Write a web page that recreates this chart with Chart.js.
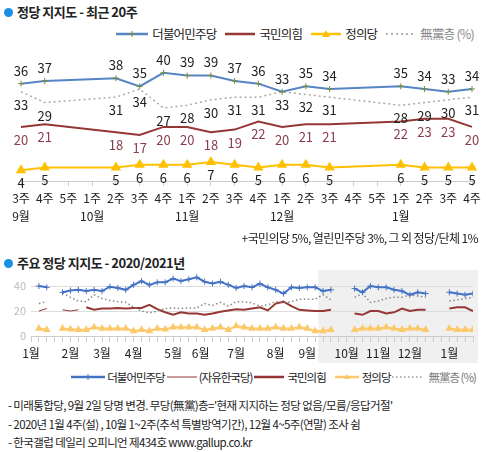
<!DOCTYPE html>
<html><head><meta charset="utf-8">
<script src="https://cdn.jsdelivr.net/npm/chart.js@4"></script>
<style>
body{margin:0;width:486px;height:452px;background:#fff;font-family:"Noto Sans CJK KR","Noto Sans",sans-serif;position:relative;overflow:hidden;color:#222}
.a{position:absolute;white-space:nowrap}
.t{font-size:13px;font-weight:bold;letter-spacing:-0.5px}
.dot{display:inline-block;width:9px;height:9px;border-radius:50%;background:#1a8fe3;margin-right:4px;vertical-align:0px}
.lg{font-size:12.5px;display:flex;align-items:center;letter-spacing:-0.8px}
.lg2{font-size:11.5px;display:flex;align-items:center;letter-spacing:-1px}
.n{font-size:11.5px;letter-spacing:-0.6px}
</style></head><body>
<div class="a t" style="left:4px;top:2px"><span class="dot"></span>정당 지지도 - 최근 20주</div>
<div class="a lg" style="right:12px;top:24px">
<svg width="34" height="10"><line x1="1" y1="5" x2="33" y2="5" stroke="#5585c5" stroke-width="2.5"/><path d="M17 2V8M14 5H20" stroke="#7a8a3a" stroke-width="1"/></svg><span style="margin:0 8px 0 3px">더불어민주당</span>
<svg width="32" height="10"><line x1="1" y1="5" x2="31" y2="5" stroke="#953735" stroke-width="2.5"/></svg><span style="margin:0 8px 0 3px">국민의힘</span>
<svg width="32" height="10"><line x1="1" y1="5" x2="31" y2="5" stroke="#ffc000" stroke-width="2.5"/><path d="M16 1L20 8H12Z" fill="#ffc000"/></svg><span style="margin:0 8px 0 3px">정의당</span>
<svg width="32" height="10"><line x1="1" y1="5" x2="31" y2="5" stroke="#999" stroke-width="1.5" stroke-dasharray="2,3"/></svg><span style="margin-left:3px;color:#888">無黨층 (%)</span>
</div>
<canvas id="c1" class="a" style="left:0;top:50px"></canvas>
<div class="a" style="right:8px;top:229px;font-size:12px;letter-spacing:-0.6px">+국민의당 5%, 열린민주당 3%, 그 외 정당/단체 1%</div>
<div class="a t" style="left:4px;top:253px"><span class="dot"></span>주요 정당 지지도 - 2020/2021년</div>
<canvas id="c2" class="a" style="left:0;top:262px"></canvas>
<div class="a lg2" style="right:10px;top:369px">
<svg width="36" height="10"><line x1="1" y1="5" x2="35" y2="5" stroke="#4472c4" stroke-width="2.5"/><path d="M18 2V8M15 5H21" stroke="#4472c4" stroke-width="1"/></svg><span style="margin:0 1px 0 1px">더불어민주당</span>
<svg width="32" height="10"><line x1="1" y1="5" x2="31" y2="5" stroke="#953735" stroke-width="1"/></svg><span style="margin:0 1px 0 1px">(자유한국당)</span>
<svg width="32" height="10"><line x1="1" y1="5" x2="31" y2="5" stroke="#953735" stroke-width="2.5"/></svg><span style="margin:0 8px 0 2px">국민의힘</span>
<svg width="26" height="10"><line x1="1" y1="5" x2="25" y2="5" stroke="#fcc96a" stroke-width="2.5"/><path d="M13 2L16 7H10Z" fill="#fcc96a"/></svg><span style="margin:0 1px 0 2px">정의당</span>
<svg width="34" height="10"><line x1="1" y1="5" x2="33" y2="5" stroke="#999" stroke-width="1.5" stroke-dasharray="1.5,2.5"/></svg><span style="margin-left:3px;color:#777">無黨층 (%)</span>
</div>
<div class="a n" style="left:8px;top:397px">- 미래통합당, 9월 2일 당명 변경. 무당(無黨)층='현재 지지하는 정당 없음/모름/응답거절'</div>
<div class="a n" style="left:8px;top:416px">- 2020년 1월 4주(설) , 10월 1~2주(추석 특별방역기간), 12월 4~5주(연말) 조사 쉼</div>
<div class="a n" style="left:8px;top:434px">- 한국갤럽 데일리 오피니언 제434호 www.gallup.co.kr</div>
<script>
// ---- top chart data ----
const weeks = ['3주','4주','5주','1주','2주','3주','4주','1주','2주','3주','4주','1주','2주','3주','4주','5주','1주','2주','3주','4주'];
const monthsTop = ['9월','','','10월','','','','11월','','','','12월','','','','','1월','','',''];
const demTop = [36,37,null,null,38,35,40,39,39,37,36,33,35,34,null,null,35,34,33,34];
const pppTop = [20,21,null,null,18,17,20,20,18,19,22,20,21,21,null,null,22,23,23,20];
const jusTop = [4,5,null,null,5,6,6,6,7,6,5,6,6,5,null,null,6,5,5,5];
const indTop = [33,29,null,null,31,34,27,28,30,31,31,33,32,31,null,null,28,29,30,31];

// ---- bottom chart data (weekly slots 2020 Jan wk1 .. 2021 Jan wk4) ----
const demAll = [null,40,39,null,35,36.5,37,36,37,36,39.5,38.5,37,41,44,41,43,43,46,44,45.5,47,43.5,42,43.5,41,38.5,40,39,42,39,37,34,39,38.5,39,39,36,37,null,null,38,35,40,39,39,37,36,33,35,34,null,null,35,34,33,34];
const libKor = [null,20,22,null,21,20,21];
const pppAll = [null,null,null,null,null,null,null,23,21,22,22,22.5,22,22.5,22.5,25,21.5,19,17,19,18,18,17,18,19.5,20.5,21.5,21,22,23,20.5,26,27.5,24,21,20.5,20,20,21,null,null,18,17,20,20,18,19,22,20,21,21,null,null,22,23,23,20];
const jusAll = [null,6,5,null,6,5.5,5,5,7,6,6,6,6,4,5,4,6,5.5,7,7,7,7,5,6,7,5,8,7,6,6,6,7,6,6,7,6,4,4,5,null,null,5,6,6,6,7,6,5,6,6,5,null,null,6,5,5,5];
const indAll = [null,26,27.5,null,34.5,31,28,27.5,33,30,28.5,27.5,27,23,20,18.5,20,22,22.5,22,22.5,22.5,26,24.5,27,24,27.5,27.5,26.5,24,25,27.5,26.5,27.5,29.5,29.5,29.5,33,29,null,null,31,34,27,28,30,31,31,33,32,31,null,null,28,29,30,31];
const monthNames = ['1월','2월','3월','4월','5월','6월','7월','8월','9월','10월','11월','12월','1월'];
const monthPos = [0,5,9,13,18,21.5,26,31,35,40,44,48,53];

const FONT = '"Noto Sans CJK KR","Noto Sans",sans-serif';
Chart.defaults.font.family = FONT;
Chart.defaults.animation = false;

const labelPlugin = {
  id:'lbl',
  afterDatasetsDraw(chart){
    const ctx = chart.ctx;
    ctx.save();
    ctx.font = '13px '+FONT;
    ctx.textAlign='center'; ctx.textBaseline='middle';
    chart.data.datasets.forEach((ds,di)=>{
      const meta = chart.getDatasetMeta(di);
      meta.data.forEach((pt,i)=>{
        const v = ds.data[i]; if(v==null) return;
        ctx.fillStyle = ds.lblColor;
        ctx.fillText(String(v), pt.x, pt.y + ds.lblOff);
      });
    });
    ctx.restore();
  }
};

const c1 = document.getElementById('c1');
c1.width=486; c1.height=185; c1.style.width='486px'; c1.style.height='185px';
new Chart(c1,{
  type:'line',
  data:{labels:weeks.map((w,i)=>[w,monthsTop[i]]),datasets:[
    {data:demTop,borderColor:'#5585c5',borderWidth:2,pointStyle:'cross',pointRadius:3,pointBorderColor:'#7a8a3a',pointBorderWidth:1,spanGaps:true,lblColor:'#222',lblOff:-13},
    {data:indTop,borderColor:'#aaa',borderWidth:1.5,borderDash:[2,3],pointRadius:0,spanGaps:true,lblColor:'#222',lblOff:13},
    {data:pppTop,borderColor:'#953735',borderWidth:2,pointRadius:0,spanGaps:true,lblColor:'#8a3b4d',lblOff:13},
    {data:jusTop,borderColor:'#ffc000',borderWidth:2,pointStyle:'triangle',pointRadius:4,pointBackgroundColor:'#ffc000',pointBorderColor:'#ffc000',spanGaps:true,lblColor:'#222',lblOff:13}
  ]},
  options:{responsive:false,devicePixelRatio:1,
    layout:{padding:{left:21,right:14,top:12,bottom:0}},
    plugins:{legend:{display:false},tooltip:{enabled:false}},
    scales:{
      x:{offset:false,afterFit(s){s.height=54;},
        grid:{drawOnChartArea:false,tickLength:5,color:'#ccc'},border:{color:'#ccc'},
        ticks:{color:'#222',font:{size:12,lineHeight:1.5},padding:3,maxRotation:0,autoSkip:false}},
      y:{display:false,min:0,max:44}
    }},
  plugins:[labelPlugin]
});

const c2 = document.getElementById('c2');
c2.width=486; c2.height=105; c2.style.width='486px'; c2.style.height='105px';
const pts = a=>a.map((v,i)=>({x:i,y:v}));
const bgPlugin = {
  id:'bg',
  beforeDraw(chart){
    const ctx=chart.ctx, x=chart.scales.x;
    ctx.save(); ctx.fillStyle='#f0f0f0';
    const x0=x.getPixelForValue(36.4);
    ctx.fillRect(x0,8,478-x0,93); ctx.restore();
  },
  afterDraw(chart){
    const ctx=chart.ctx, x=chart.scales.x;
    ctx.save(); ctx.font='12px '+FONT; ctx.fillStyle='#222'; ctx.textAlign='center'; ctx.textBaseline='middle';
    monthNames.forEach((m,i)=>ctx.fillText(m, x.getPixelForValue(monthPos[i]), 91));
    ctx.restore();
  }
};
new Chart(c2,{
  type:'line',
  data:{datasets:[
    {data:pts(demAll),borderColor:'#4472c4',borderWidth:2,pointStyle:'cross',pointRadius:3,pointBorderColor:'#4472c4',pointBorderWidth:1},
    {data:pts(indAll),borderColor:'#888',borderWidth:1.5,borderDash:[1.5,2.5],pointRadius:0},
    {data:pts(libKor),borderColor:'#953735',borderWidth:1,pointRadius:0},
    {data:pts(pppAll),borderColor:'#953735',borderWidth:2,pointRadius:0},
    {data:pts(jusAll),borderColor:'#fcc96a',borderWidth:2,pointStyle:'triangle',pointRadius:2.5,pointBackgroundColor:'#fcc96a',pointBorderColor:'#fcc96a'}
  ]},
  options:{responsive:false,devicePixelRatio:1,
    layout:{padding:{left:0,right:13,top:0,bottom:0}},
    plugins:{legend:{display:false},tooltip:{enabled:false}},
    scales:{
      x:{type:'linear',min:0,max:56,afterFit(s){s.height=31;},
        grid:{drawOnChartArea:false,tickLength:6,color:'#ccc'},border:{color:'#ccc'},
        ticks:{stepSize:1,autoSkip:false,callback:()=>''}},
      y:{min:0,max:50,afterFit(s){s.width=31;},
        afterBuildTicks(s){s.ticks=[{value:0},{value:20},{value:40}];},
        grid:{color:'#ddd',drawTicks:false},border:{display:false},
        ticks:{color:'#bbb',font:{size:11},padding:5}}
    }},
  plugins:[bgPlugin]
});
</script>
</body></html>
